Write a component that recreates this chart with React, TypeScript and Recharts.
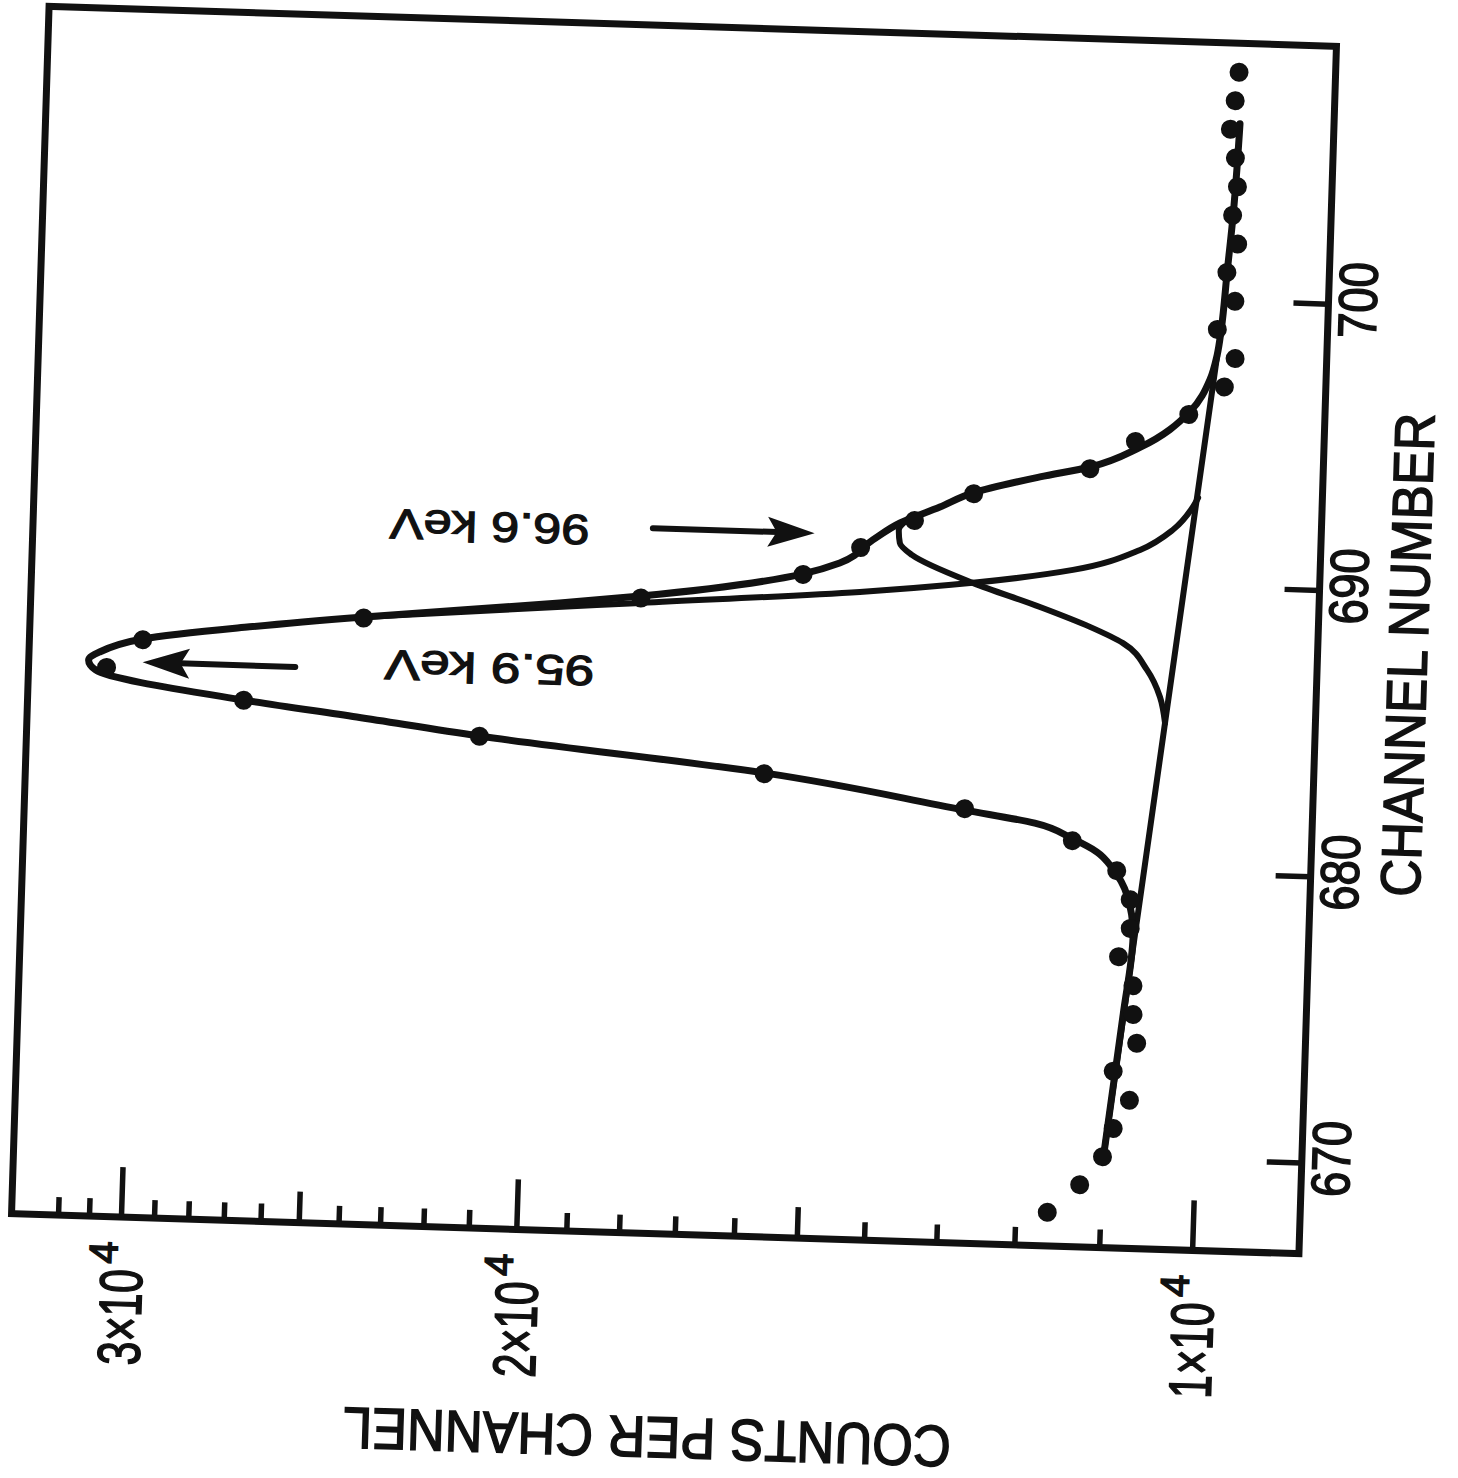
import React from "react";
import {
  ScatterChart,
  Scatter,
  XAxis,
  YAxis,
  ReferenceArea,
  ReferenceLine,
  ReferenceDot,
  Curve,
} from "recharts";

// measured points, one per channel
const channels = [
  668, 669, 670, 671, 672, 673, 674, 675, 676, 677, 678, 679, 680, 681, 682,
  683, 684, 685, 686, 687, 688, 689, 690, 691, 692, 693, 694, 695, 696, 697,
  698, 699, 700, 701, 702, 703, 704, 705, 706, 707, 708,
];
const counts = [
  11620, 11250, 11000, 10890, 10720, 10910, 10660, 10710, 10720, 10890, 10770,
  10780, 10940, 11460, 12810, 15750, 21110, 26910, 31000, 29900, 23860, 17970,
  15230, 14370, 13610, 12820, 11390, 10880, 10310, 9950, 9850, 10040, 9870,
  9960, 9860, 9920, 9880, 9910, 9970, 9930, 9900,
];

// fitted curves (channel descending)
const fitChannels = [
  706.2, 704.7, 703.0, 701.0, 699.0, 698.1, 697.25, 696.1, 694.8, 694.06,
  693.66, 693.03, 692.5, 691.9, 691.28, 690.44, 690.02, 689.07, 688.74, 688.04,
  687.57, 687.03, 686.53, 686.24, 685.9, 685.01, 684.54, 684.01, 683.03,
  681.95, 681.57, 681.06, 680.63, 680.05, 679.16, 677.7, 675.0, 669.9,
];
const fitCounts = [
  9874, 9890, 9915, 9958, 10000, 10034, 10099, 10298, 10827, 11389, 11985,
  12831, 13266, 13812, 14195, 14674, 15232, 17974, 19527, 23856, 26809, 29904,
  31237, 31582, 31346, 26913, 23953, 21106, 15753, 12808, 11916, 11455, 11170,
  10982, 10817, 10736, 10818, 10993,
];

const peak959Channels = [
  693.1, 692.78, 691.96, 691.22, 690.45, 689.89, 689.45, 688.83, 688.43, 688.04,
];
const peak959Counts = [
  10185, 10236, 10440, 10791, 11552, 12795, 14361, 17970, 20763, 23856,
];

const peak966Channels = [
  692.0, 691.66, 691.2, 690.8, 689.89, 689.12, 688.48, 687.95, 687.04, 686.11,
  685.21,
];
const peak966Counts = [
  13720, 13826, 13806, 13632, 12795, 11935, 11332, 10949, 10674, 10524, 10461,
];

const bgChannels = [698.07, 669.9];
const bgCounts = [10034, 10993];

// axes
const countTicks = [
  10000, 11000, 12000, 13000, 14000, 15000, 16000, 17000, 18000, 19000, 20000,
  21000, 22000, 23000, 24000, 25000, 26000, 27000, 28000, 29000, 30000, 31000,
  32000,
];
const countMajor = [10000, 20000, 30000];
const countMedium = [15000, 25000];
const channelTicks = [670, 680, 690, 700];
const countDomain = [8967, 33580];
const channelDomain = [666.83, 709.01];

const toPoints = (chs: number[], cs: number[]) =>
  chs.map((ch, i) => ({ ch, c: cs[i] }));

const measured = toPoints(channels, counts);
const fit = toPoints(fitChannels, fitCounts);
const peak959 = toPoints(peak959Channels, peak959Counts);
const peak966 = toPoints(peak966Channels, peak966Counts);
const background = toPoints(bgChannels, bgCounts);

const W = 1458;
const H = 1478;
const PLOT_LEFT = 30;
const PLOT_TOP = 26;
const PLOT_RIGHT = 1318;
const PLOT_BOTTOM = 1234;
const FONT = "'Liberation Sans', Arial, sans-serif";
const INK = "#111";

// lettering in the scan is heavier than the font, so stroke it a little
const ink = { fill: INK, stroke: INK, strokeWidth: 1.6, fontFamily: FONT };

const CountTick = (props: any) => {
  const { x, y, payload } = props;
  const v = payload.value;
  const major = countMajor.includes(v);
  const len = major ? 50 : countMedium.includes(v) ? 31 : 18;
  return (
    <g>
      <line x1={x} y1={y} x2={x} y2={y - len} stroke={INK} strokeWidth={5.5} />
      {major && (
        <g {...ink}>
          <text
            x={x + 2}
            y={y + 148}
            transform={`rotate(-90 ${x + 2} ${y + 148})`}
            textAnchor="start"
            dominantBaseline="central"
            fontSize={60}
            textLength={96}
            lengthAdjust="spacingAndGlyphs"
          >
            {`${v / 10000}×10`}
          </text>
          <text
            x={x - 17}
            y={y + 47}
            transform={`rotate(-90 ${x - 17} ${y + 47})`}
            textAnchor="start"
            dominantBaseline="central"
            fontSize={40}
          >
            4
          </text>
        </g>
      )}
    </g>
  );
};

const ChannelTick = (props: any) => {
  const { x, y, payload } = props;
  return (
    <g>
      <line x1={x} y1={y} x2={x - 35} y2={y} stroke={INK} strokeWidth={5.5} />
      <text
        x={x + 29}
        y={y - 5}
        transform={`rotate(-90 ${x + 29} ${y - 5})`}
        textAnchor="middle"
        dominantBaseline="central"
        fontSize={54}
        textLength={76}
        lengthAdjust="spacingAndGlyphs"
        {...ink}
      >
        {payload.value}
      </text>
    </g>
  );
};

const Arrow = (props: any) => {
  const { x1, y1, x2, y2 } = props;
  const dir = x2 > x1 ? 1 : -1;
  const back = x2 - dir * 47;
  return (
    <g>
      <line
        x1={x1}
        y1={y1}
        x2={back + dir * 10}
        y2={y2}
        stroke={INK}
        strokeWidth={6}
        strokeLinecap="round"
      />
      <path
        d={`M${x2},${y2} L${back},${y2 - 15} L${back + dir * 9},${y2} L${back},${y2 + 15} Z`}
        fill={INK}
      />
    </g>
  );
};

const upsideDown = (label: string, size: number, length: number) => (p: any) =>
  (
    <text
      x={p.cx}
      y={p.cy}
      transform={`rotate(180 ${p.cx} ${p.cy})`}
      textAnchor="middle"
      dominantBaseline="central"
      fontSize={size}
      textLength={length}
      lengthAdjust="spacingAndGlyphs"
      {...ink}
      strokeWidth={1.2}
    >
      {label}
    </text>
  );

const noMark = () => <g />;
const dot = (p: any) => <circle cx={p.cx} cy={p.cy} r={9.5} fill={INK} />;

// pen line through the scatter's own scaled points
const pen = (w: number, type: string) => (p: any) =>
  (
    <Curve
      points={p.points}
      type={type as any}
      fill="none"
      stroke={INK}
      strokeWidth={w}
      strokeLinejoin="round"
      strokeLinecap="round"
    />
  );

const App = () => {
  const plotMidX = (PLOT_LEFT + PLOT_RIGHT) / 2;
  const plotMidY = (PLOT_TOP + PLOT_BOTTOM) / 2;
  return (
    <div
      style={{
        position: "absolute",
        left: 0,
        top: 0,
        width: W,
        height: H,
        overflow: "hidden",
        background: "#fff",
      }}
    >
      <div
        style={{
          width: W,
          height: H,
          transform: "rotate(1.78deg)",
          transformOrigin: "674px 630px",
        }}
      >
        <ScatterChart
          width={W}
          height={H}
          margin={{ top: PLOT_TOP, right: 0, bottom: 0, left: PLOT_LEFT }}
        >
          <XAxis
            type="number"
            dataKey="c"
            scale="log"
            domain={countDomain}
            allowDataOverflow
            reversed
            ticks={countTicks}
            interval={0}
            height={H - PLOT_BOTTOM}
            axisLine={false}
            tickLine={false}
            tickSize={0}
            tickMargin={0}
            tick={<CountTick />}
            label={{
              content: () => (
                <text
                  x={plotMidX - 2}
                  y={PLOT_BOTTOM + 204}
                  transform={`rotate(180 ${plotMidX - 2} ${PLOT_BOTTOM + 204})`}
                  textAnchor="middle"
                  dominantBaseline="central"
                  fontSize={58}
                  textLength={608}
                  lengthAdjust="spacingAndGlyphs"
                  {...ink}
                >
                  COUNTS PER CHANNEL
                </text>
              ),
            }}
          />
          <YAxis
            type="number"
            dataKey="ch"
            orientation="right"
            domain={channelDomain}
            allowDataOverflow
            ticks={channelTicks}
            interval={0}
            width={W - PLOT_RIGHT}
            axisLine={false}
            tickLine={false}
            tickSize={0}
            tickMargin={0}
            tick={<ChannelTick />}
            label={{
              content: () => (
                <text
                  x={PLOT_RIGHT + 90}
                  y={plotMidY + 2}
                  transform={`rotate(-90 ${PLOT_RIGHT + 90} ${plotMidY + 2})`}
                  textAnchor="middle"
                  dominantBaseline="central"
                  fontSize={56}
                  textLength={484}
                  lengthAdjust="spacingAndGlyphs"
                  {...ink}
                >
                  CHANNEL NUMBER
                </text>
              ),
            }}
          />
          <ReferenceArea
            x1={countDomain[1]}
            x2={countDomain[0]}
            y1={channelDomain[0]}
            y2={channelDomain[1]}
            fill="none"
            stroke={INK}
            strokeWidth={7}
            fillOpacity={0}
            ifOverflow="visible"
          />
          <Scatter
            data={background}
            line={pen(6, "linear")}
            shape={noMark}
            isAnimationActive={false}
          />
          <Scatter
            data={peak959}
            line={pen(6, "monotoneY")}
            shape={noMark}
            isAnimationActive={false}
          />
          <Scatter
            data={peak966}
            line={pen(6, "monotoneY")}
            shape={noMark}
            isAnimationActive={false}
          />
          <Scatter
            data={fit}
            line={pen(7, "monotoneY")}
            shape={noMark}
            isAnimationActive={false}
          />
          <Scatter
            data={measured}
            shape={dot}
            isAnimationActive={false}
          />
          <ReferenceLine
            segment={[
              { x: 25550, y: 686.22 },
              { x: 29880, y: 686.22 },
            ]}
            shape={Arrow}
            ifOverflow="visible"
          />
          <ReferenceLine
            segment={[
              { x: 17790, y: 691.45 },
              { x: 15070, y: 691.45 },
            ]}
            shape={Arrow}
            ifOverflow="visible"
          />
          <ReferenceDot
            x={20940}
            y={686.4}
            r={0}
            shape={upsideDown("95.9 keV", 42, 210)}
            ifOverflow="visible"
          />
          <ReferenceDot
            x={21030}
            y={691.32}
            r={0}
            shape={upsideDown("96.6 keV", 42, 200)}
            ifOverflow="visible"
          />
        </ScatterChart>
      </div>
    </div>
  );
};

export default App;
